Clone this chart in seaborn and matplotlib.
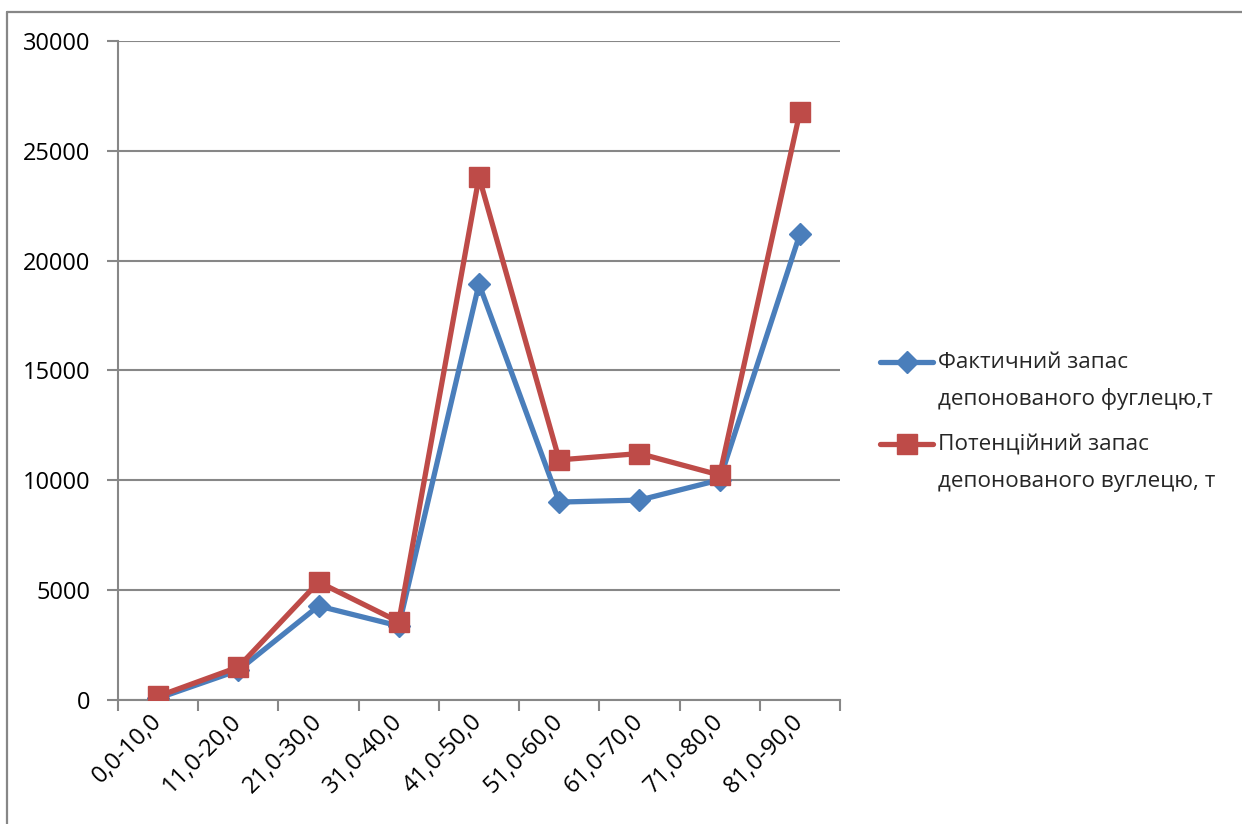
import matplotlib
matplotlib.use("Agg")
import matplotlib.pyplot as plt
from matplotlib.lines import Line2D
from matplotlib.ticker import FixedLocator, NullFormatter
import numpy as np
import pandas as pd
import seaborn as sns

# Age classes of stands and carbon stocks (t)
categories = ["0,0-10,0", "11,0-20,0", "21,0-30,0", "31,0-40,0", "41,0-50,0",
              "51,0-60,0", "61,0-70,0", "71,0-80,0", "81,0-90,0"]
actual_stock = [80, 1350, 4280, 3370, 18940, 9010, 9100, 10020, 21210]
potential_stock = [170, 1500, 5370, 3560, 23810, 10930, 11220, 10240, 26760]
series_names = ["Фактичний запас\nдепонованого фуглецю,т",
                "Потенційний запас\nдепонованого вуглецю, т"]
y_ticks = [0, 5000, 10000, 15000, 20000, 25000, 30000]

BLUE = "#4A7EBB"
RED = "#BE4B48"
GRID = "#878787"

sns.set_theme(style="white")
plt.rcParams["font.family"] = ["Open Sans", "DejaVu Sans"]

W, H = 1242, 824
fig = plt.figure(figsize=(W / 100, H / 100), dpi=100)
ax = fig.add_axes([118 / W, 1 - 700 / H, (840 - 118) / W, (700 - 41) / H])

pos = np.arange(len(categories))
df_actual = pd.DataFrame({"pos": pos, "value": actual_stock})
df_potential = pd.DataFrame({"pos": pos, "value": potential_stock})

sns.lineplot(data=df_actual, x="pos", y="value", ax=ax, color=BLUE, lw=3.8,
             marker="D", markersize=11.5, markeredgecolor=BLUE, markeredgewidth=1,
             sort=False, zorder=3)
sns.lineplot(data=df_potential, x="pos", y="value", ax=ax, color=RED, lw=3.8,
             marker="s", markersize=14.5, markeredgecolor=RED, markeredgewidth=1,
             sort=False, zorder=4)

ax.set_xlim(-0.5, len(categories) - 0.5)
ax.set_ylim(0, 30000)
ax.set_xlabel("")
ax.set_ylabel("")

ax.set_yticks(y_ticks)
ax.set_yticklabels([str(v) for v in y_ticks])
ax.yaxis.grid(True, color=GRID, lw=1.5)
ax.xaxis.grid(False)

ax.set_xticks(pos)
ax.set_xticklabels(categories, rotation=45, ha="right", va="center",
                   rotation_mode="anchor")
ax.xaxis.set_minor_locator(FixedLocator(np.arange(-0.5, len(categories), 1.0)))
ax.xaxis.set_minor_formatter(NullFormatter())

ax.tick_params(axis="x", which="major", length=0, pad=13, labelsize=17,
               labelcolor="black")
ax.tick_params(axis="x", which="minor", length=8, width=1.5, color=GRID,
               direction="out", bottom=True)
ax.tick_params(axis="y", which="major", length=8, width=1.5, color=GRID,
               direction="out", left=True, pad=12, labelsize=17,
               labelcolor="black")

for side in ["top", "right"]:
    ax.spines[side].set_visible(False)
for side in ["left", "bottom"]:
    ax.spines[side].set_visible(True)
    ax.spines[side].set_color(GRID)
    ax.spines[side].set_linewidth(1.5)

# Legend on the right
def fx(x):
    return x / W

def fy(y):
    return 1 - y / H

legend_items = [(BLUE, "D", 11.5, 362, series_names[0]),
                (RED, "s", 14.5, 444, series_names[1])]
for color, mk, ms, ypix, label in legend_items:
    fig.add_artist(Line2D([fx(880), fx(933)], [fy(ypix), fy(ypix)],
                          color=color, lw=3.8, transform=fig.transFigure))
    fig.add_artist(Line2D([fx(906.5)], [fy(ypix)], color=color, marker=mk,
                          markersize=ms, markeredgecolor=color,
                          transform=fig.transFigure))
    first, second = label.split("\n")
    fig.text(fx(938), fy(ypix), first, fontsize=16.2, va="center", ha="left")
    fig.text(fx(938), fy(ypix + 37), second, fontsize=16.2, va="center", ha="left")

# Chart frame
fig.add_artist(Line2D([fx(7), fx(W)], [fy(12), fy(12)], color=GRID, lw=1.6,
                      transform=fig.transFigure))
fig.add_artist(Line2D([fx(7), fx(7)], [fy(12), fy(H)], color=GRID, lw=1.6,
                      transform=fig.transFigure))

fig.savefig("out.png", dpi=100, facecolor="white")
